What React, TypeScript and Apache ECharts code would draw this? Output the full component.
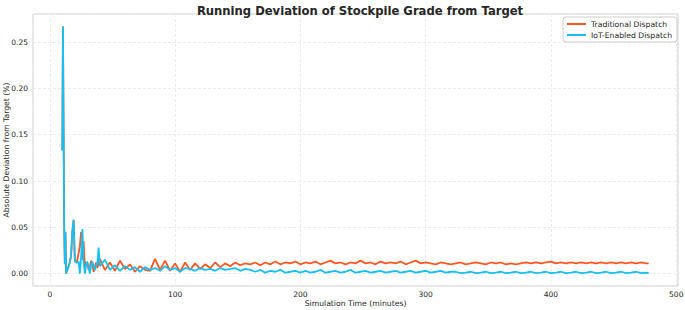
import React, { useEffect, useRef } from "react";
import * as echarts from "echarts";

// Simulation time (minutes)
const times: number[] = [
  10, 10.5, 11.5, 12, 12.5, 13, 14, 15, 16, 17,
  18, 19, 20, 21, 22, 23, 24, 25, 26, 27,
  28, 29, 30, 31, 32, 33, 34, 35, 36, 37,
  38, 39, 40,
  44, 48, 52, 56, 60, 64, 68, 72, 76, 80,
  84, 88, 92, 96, 100, 104, 108, 112, 116, 120,
  124, 128, 132, 136, 140, 144, 148, 152, 156, 160,
  164, 168, 172, 176, 180, 184, 188, 192, 196, 200,
  204, 208, 212, 216, 220, 224, 228, 232, 236, 240,
  244, 248, 252, 256, 260, 264, 268, 272, 276, 280,
  284, 288, 292, 296, 300, 304, 308, 312, 316, 320,
  324, 328, 332, 336, 340, 344, 348, 352, 356, 360,
  364, 368, 372, 376, 380, 384, 388, 392, 396, 400,
  404, 408, 412, 416, 420, 424, 428, 432, 436, 440,
  444, 448, 452, 456, 460, 464, 468, 472, 476, 478,
];

// Traditional Dispatch deviation (%)
const traditional: number[] = [
  0.133, 0.267, 0.05, 0.01, 0.045, 0.0, 0.004, 0.008, 0.012, 0.02,
  0.045, 0.058, 0.014, 0.012, 0.015, 0.022, 0.03, 0.045, 0.015, 0.035,
  0.008, 0.012, 0.01, 0.004, 0.008, 0.014, 0.01, 0.002, 0.008, 0.012,
  0.006, 0.012, 0.016,
  0.004, 0.012, 0.003, 0.014, 0.005, 0.010, 0.002, 0.008, 0.004, 0.003,
  0.016, 0.004, 0.014, 0.003, 0.011, 0.002, 0.012, 0.004, 0.011, 0.005,
  0.010, 0.006, 0.012, 0.007, 0.011, 0.008, 0.012, 0.009, 0.011, 0.010,
  0.012, 0.009, 0.012, 0.010, 0.013, 0.010, 0.012, 0.011, 0.013, 0.010,
  0.012, 0.011, 0.013, 0.010, 0.012, 0.014, 0.011, 0.012, 0.010, 0.012,
  0.011, 0.014, 0.011, 0.012, 0.010, 0.013, 0.011, 0.012, 0.011, 0.013,
  0.010, 0.012, 0.014, 0.011, 0.012, 0.011, 0.010, 0.012, 0.011, 0.010,
  0.011, 0.012, 0.010, 0.011, 0.012, 0.011, 0.010, 0.012, 0.011, 0.012,
  0.010, 0.011, 0.010, 0.011, 0.012, 0.011, 0.012, 0.011, 0.012, 0.013,
  0.011, 0.012, 0.011, 0.012, 0.011, 0.012, 0.011, 0.012, 0.011, 0.012,
  0.011, 0.012, 0.011, 0.012, 0.011, 0.012, 0.011, 0.012, 0.011, 0.011,
];

// IoT-Enabled Dispatch deviation (%)
const iot: number[] = [
  0.133, 0.267, 0.05, 0.01, 0.045, 0.0, 0.004, 0.008, 0.012, 0.02,
  0.045, 0.058, 0.014, 0.012, 0.012, 0.013, 0.0, 0.018, 0.048, 0.012,
  0.0, 0.01, 0.013, 0.006, 0.0, 0.01, 0.013, 0.008, 0.004, 0.009,
  0.012, 0.028, 0.008,
  0.015, 0.004, 0.009, 0.003, 0.008, 0.004, 0.007, 0.002, 0.007, 0.004,
  0.006, 0.003, 0.008, 0.004, 0.006, 0.002, 0.006, 0.005, 0.003, 0.006,
  0.004, 0.005, 0.003, 0.006, 0.004, 0.005, 0.006, 0.003, 0.005, 0.004,
  0.002, 0.004, 0.001, 0.003, 0.002, 0.004, 0.001, 0.002, 0.003, 0.001,
  0.003, 0.001, 0.002, 0.004, 0.001, 0.002, 0.003, 0.001, 0.002, 0.004,
  0.001, 0.002, 0.003, 0.001, 0.002, 0.003, 0.001, 0.002, 0.003, 0.001,
  0.002, 0.003, 0.001, 0.002, 0.003, 0.001, 0.002, 0.003, 0.001, 0.002,
  0.002, 0.0005, 0.001, 0.002, 0.0005, 0.001, 0.002, 0.0005, 0.001, 0.002,
  0.0005, 0.001, 0.002, 0.0005, 0.001, 0.002, 0.0005, 0.001, 0.002, 0.0005,
  0.001, 0.002, 0.0005, 0.001, 0.002, 0.0005, 0.001, 0.002, 0.0005, 0.001,
  0.002, 0.0005, 0.001, 0.002, 0.0005, 0.001, 0.002, 0.0005, 0.001, 0.0005,
];

const FONT = "DejaVu Sans";
const TEXT = "#262626";

export default function App() {
  const ref = useRef<HTMLDivElement>(null);
  useEffect(() => {
    if (!ref.current) return;
    const chart = echarts.init(ref.current, undefined, { renderer: "svg" });
    chart.setOption({
      animation: false,
      backgroundColor: "#ffffff",
      textStyle: { fontFamily: FONT },
      title: {
        text: "Running Deviation of Stockpile Grade from Target",
        left: 355,
        textAlign: "center",
        top: 0,
        textStyle: { fontFamily: FONT, fontSize: 11.6, fontWeight: "bold", color: TEXT },
      },
      legend: {
        orient: "vertical",
        right: 8,
        top: 17,
        padding: [3, 5, 3, 4],
        itemGap: 3,
        itemWidth: 19,
        itemHeight: 2,
        icon: "rect",
        backgroundColor: "rgba(255,255,255,0.85)",
        borderColor: "#cccccc",
        borderWidth: 1,
        borderRadius: 3,
        textStyle: { fontFamily: FONT, fontSize: 7.7, color: TEXT },
        data: ["Traditional Dispatch", "IoT-Enabled Dispatch"],
      },
      grid: {
        left: 33,
        right: 7,
        top: 14,
        bottom: 24,
        show: true,
        borderColor: "#cccccc",
        borderWidth: 1,
        containLabel: false,
        outerBoundsMode: "none",
      },
      xAxis: {
        type: "value",
        min: -13.4,
        max: 501.4,
        splitNumber: 5,
        name: "Simulation Time (minutes)",
        nameLocation: "middle",
        nameGap: 13,
        nameMoveOverlap: false,
        nameTextStyle: { fontFamily: FONT, fontSize: 7.7, color: TEXT },
        axisLine: { show: false },
        axisTick: { show: false },
        axisLabel: {
          showMinLabel: false,
          showMaxLabel: false,
          margin: 4,
          fontFamily: FONT,
          fontSize: 7.5,
          color: TEXT,
        },
        splitLine: { show: true, lineStyle: { color: "#ececec", width: 1, type: [3, 2] } },
      },
      yAxis: {
        type: "value",
        min: -0.0134,
        max: 0.2804,
        splitNumber: 5,
        name: "Absolute Deviation from Target (%)",
        nameLocation: "middle",
        nameGap: 23,
        nameMoveOverlap: false,
        nameTextStyle: { fontFamily: FONT, fontSize: 7.7, color: TEXT },
        axisLine: { show: false },
        axisTick: { show: false },
        axisLabel: {
          showMinLabel: false,
          showMaxLabel: false,
          margin: 5,
          fontFamily: FONT,
          fontSize: 7.5,
          color: TEXT,
          formatter: (v: number) => v.toFixed(2),
        },
        splitLine: { show: true, lineStyle: { color: "#ececec", width: 1, type: [3, 2] } },
      },
      series: [
        {
          name: "Traditional Dispatch",
          type: "line",
          showSymbol: false,
          color: "#FF5722",
          lineStyle: { width: 1.8, color: "#FF5722" },
          data: times.map((t, i) => [t, traditional[i]]),
        },
        {
          name: "IoT-Enabled Dispatch",
          type: "line",
          showSymbol: false,
          color: "#17C0F3",
          lineStyle: { width: 1.8, color: "#17C0F3" },
          data: times.map((t, i) => [t, iot[i]]),
        },
      ],
    });
    return () => chart.dispose();
  }, []);
  return (
    <div
      ref={ref}
      style={{ position: "fixed", left: 0, top: 0, width: 685, height: 310 }}
    />
  );
}
